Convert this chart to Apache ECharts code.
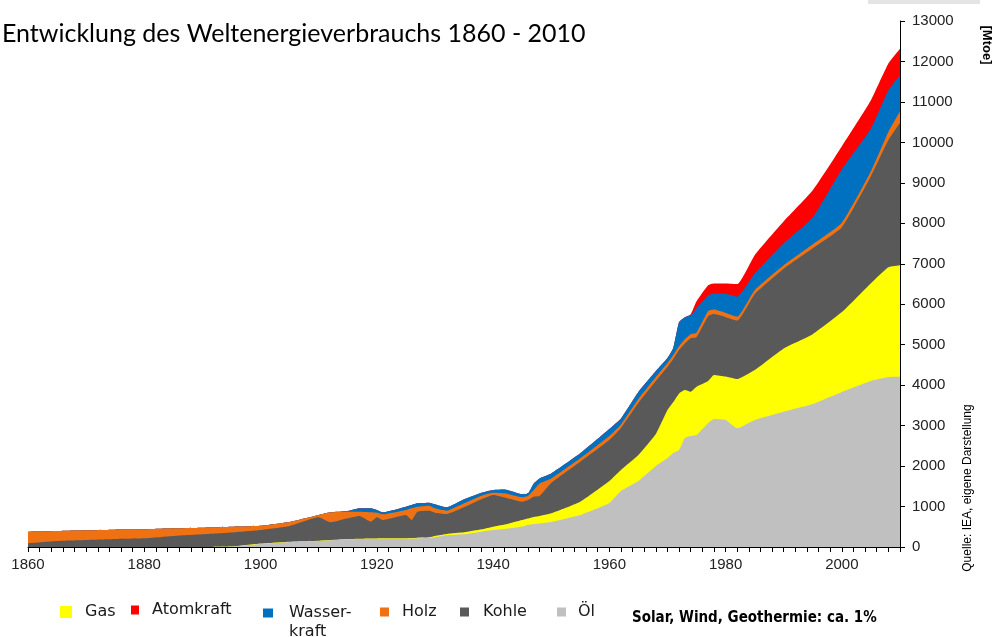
<!DOCTYPE html>
<html>
<head>
<meta charset="utf-8">
<script src="https://cdn.jsdelivr.net/npm/echarts@6/dist/echarts.min.js"></script>
<style>
  html, body { margin: 0; padding: 0; background: #fff; }
  #chart { width: 996px; height: 637px; }
</style>
</head>
<body>
<div id="chart"></div>
<script>
// Weltenergieverbrauch in Mtoe
const years = [1860, 1865, 1870, 1875, 1880, 1885, 1890, 1895, 1900, 1905, 1910, 1912,
  1915, 1917, 1919, 1920, 1921, 1925, 1926, 1927, 1929, 1930, 1932, 1935, 1938, 1940,
  1942, 1945, 1946, 1947, 1948, 1950, 1955, 1960, 1962, 1965, 1968, 1970, 1971, 1972,
  1973, 1974, 1975, 1977, 1978, 1980, 1982, 1985, 1990, 1995, 2000, 2005, 2008, 2010];

const oel = [0, 0, 0, 0, 0, 0, 0, 12, 74, 124, 148, 165,
  190, 198, 203, 205, 205, 205, 210, 217, 222, 240, 289, 314, 378, 420,
  445, 506, 543, 568, 580, 618, 790, 1087, 1383, 1630, 2001, 2198, 2322, 2396,
  2692, 2742, 2766, 3063, 3162, 3137, 2932, 3137, 3342, 3532, 3829, 4100, 4199, 4206];

const gas = [0, 0, 0, 0, 0, 0, 0, 0, 12, 7, 7, 7,
  7, 7, 7, 7, 10, 12, 12, 12, 17, 32, 32, 49, 59, 82,
  111, 161, 161, 173, 185, 215, 329, 543, 519, 642, 790, 1186, 1260, 1400,
  1186, 1094, 1193, 1037, 1087, 1074, 1218, 1235, 1566, 1729, 1976, 2421, 2717, 2759];

const kohle = [91, 148, 173, 198, 215, 272, 314, 346, 333, 388, 578, 437,
  511, 561, 415, 521, 452, 573, 445, 642, 657, 576, 494, 618, 741, 783,
  667, 452, 457, 501, 494, 748, 988, 1013, 1037, 1284, 1309, 1062, 1062, 1070,
  1153, 1326, 1228, 1606, 1507, 1470, 1445, 1877, 1971, 2124, 2100, 2643, 3137, 3520];

const holz = [287, 247, 240, 230, 222, 190, 163, 143, 106, 99, 57, 247,
  163, 106, 232, 114, 141, 124, 289, 124, 124, 109, 82, 99, 89, 57,
  104, 109, 99, 165, 309, 111, 84, 99, 86, 99, 99, 99, 99, 99,
  106, 99, 111, 124, 111, 104, 99, 99, 86, 99, 111, 124, 205, 284];

const wasser = [0, 0, 0, 0, 0, 0, 0, 0, 0, 0, 0, 0,
  17, 84, 99, 67, 49, 82, 82, 84, 74, 99, 84, 99, 74, 67,
  94, 77, 62, 165, 128, 124, 124, 173, 148, 173, 148, 124, 173, 593,
  543, 469, 605, 395, 400, 477, 499, 412, 543, 667, 1321, 1055, 1030, 889];

const atom = [0, 0, 0, 0, 0, 0, 0, 0, 0, 0, 0, 0,
  0, 0, 0, 0, 0, 0, 0, 0, 0, 0, 0, 0, 0, 0,
  0, 0, 0, 0, 0, 0, 0, 0, 0, 0, 0, 0, 0, 0,
  0, 25, 173, 247, 247, 252, 304, 452, 543, 667, 568, 699, 659, 655];

const yTicks = { min: 0, max: 13000, step: 1000 };
const xTicks = { min: 1860, max: 2010, step: 2, labelStep: 20 };

const legendFont = 'DejaVu Sans';

// stacking order from the bottom up
const layers = [
  { name: 'Öl', values: oel, color: '#c0c0c0' },
  { name: 'Gas', values: gas, color: '#ffff00' },
  { name: 'Kohle', values: kohle, color: '#595959' },
  { name: 'Holz', values: holz, color: '#f07112' },
  { name: 'Wasserkraft', values: wasser, color: '#0070c0' },
  { name: 'Atomkraft', values: atom, color: '#ff0000' }
];

// running totals; each area is filled down to zero and the lower ones are drawn over it
let running = years.map(() => 0);
const series = layers.map(l => {
  running = running.map((s, i) => s + l.values[i]);
  return {
    name: l.name,
    type: 'line',
    data: years.map((y, i) => [y, running[i]]),
    symbol: 'none',
    smooth: 0.15,
    lineStyle: { width: 0 },
    itemStyle: { color: l.color },
    areaStyle: { color: l.color, opacity: 1 },
    emphasis: { disabled: true }
  };
}).reverse();

function legendItem(name, left, top, w, h, gap) {
  return {
    data: [name],
    left: left,
    top: top,
    padding: 0,
    icon: 'rect',
    itemWidth: w,
    itemHeight: h,
    selectedMode: false,
    formatter: n => (n === 'Wasserkraft' ? 'Wasser-' : n),
    textStyle: {
      fontFamily: legendFont,
      fontSize: 16,
      color: '#1a1a1a',
      padding: [0, 0, 0, gap]
    }
  };
}

const chart = echarts.init(document.getElementById('chart'));
chart.setOption({
  animation: false,
  backgroundColor: '#fff',
  title: [
    {
      text: 'Entwicklung des Weltenergieverbrauchs 1860 - 2010',
      left: 2,
      top: 21,
      padding: 0,
      textStyle: { fontFamily: 'Lato', fontSize: 25, fontWeight: 'normal', color: '#000' }
    },
    {
      text: 'Solar, Wind, Geothermie: ca. 1%',
      left: 632,
      top: 611,
      padding: 0,
      textStyle: { fontFamily: 'DejaVu Sans Condensed', fontSize: 15, fontWeight: 'bold', color: '#000' }
    }
  ],
  legend: [
    legendItem('Gas', 60, 604, 12, 12, 8),
    legendItem('Atomkraft', 131, 602, 8, 9, 8),
    legendItem('Wasserkraft', 263, 605, 10, 9, 11),
    legendItem('Holz', 380, 604, 9, 9, 8),
    legendItem('Kohle', 460, 604, 9, 9, 9),
    legendItem('Öl', 557, 604, 9, 9, 7)
  ],
  grid: { left: 28, right: 96, top: 21, bottom: 90 },
  xAxis: {
    type: 'value',
    min: xTicks.min,
    max: xTicks.max,
    interval: xTicks.step,
    splitLine: { show: false },
    axisLine: { show: true, lineStyle: { color: '#000', width: 1 } },
    axisTick: { show: true, length: 5, lineStyle: { color: '#000' } },
    axisLabel: {
      margin: 10,
      fontFamily: 'Liberation Sans',
      fontSize: 15,
      color: '#222',
      formatter: v => (v % xTicks.labelStep === 0 && v < xTicks.max ? String(v) : '')
    }
  },
  yAxis: {
    type: 'value',
    position: 'right',
    min: yTicks.min,
    max: yTicks.max,
    interval: yTicks.step,
    splitLine: { show: false },
    axisLine: { show: true, lineStyle: { color: '#000', width: 1 } },
    axisTick: { show: true, length: 5, lineStyle: { color: '#000' } },
    axisLabel: {
      margin: 12,
      fontFamily: 'Liberation Sans',
      fontSize: 15,
      color: '#222',
      formatter: v => String(v)
    }
  },
  graphic: [
    {
      type: 'rect',
      shape: { x: 868, y: 0, width: 112, height: 4 },
      style: { fill: '#e4e4e4' }
    },
    {
      type: 'text',
      x: 987, y: 45,
      rotation: -Math.PI / 2,
      style: {
        text: '[Mtoe]',
        textAlign: 'center',
        textVerticalAlign: 'middle',
        font: 'bold 13px Liberation Sans',
        fill: '#000'
      }
    },
    {
      type: 'text',
      x: 968, y: 488,
      rotation: Math.PI / 2,
      style: {
        text: 'Quelle: IEA, eigene Darstellung',
        textAlign: 'center',
        textVerticalAlign: 'middle',
        font: '12px Liberation Sans',
        fill: '#000'
      }
    },
    {
      type: 'text',
      x: 289, y: 624,
      style: {
        text: 'kraft',
        font: '16px ' + legendFont,
        fill: '#1a1a1a'
      }
    }
  ],
  series: series
});
</script>
</body>
</html>
